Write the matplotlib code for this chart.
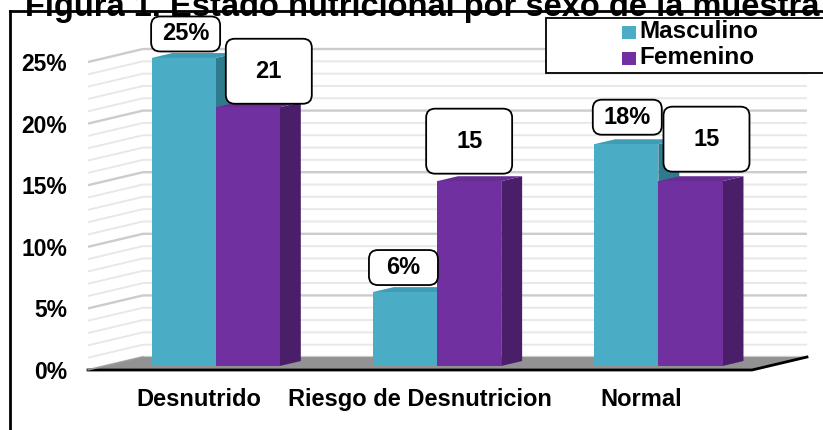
import matplotlib
matplotlib.use('Agg')
import matplotlib.pyplot as plt
from matplotlib.patches import Polygon, Rectangle, FancyBboxPatch
from matplotlib import transforms

plt.rcParams['font.family'] = ['Liberation Sans', 'DejaVu Sans']
plt.rcParams['font.weight'] = 'bold'

# data
categories = ['Desnutrido', 'Riesgo de Desnutricion', 'Normal']
series_names = ['Masculino', 'Femenino']
masculino = [25, 6, 18]
femenino = [21, 15, 15]
label_fmt = ['{}%', '{}']
title = 'Figura 1. Estado nutricional por sexo de la muestra'
yticks = [0, 5, 10, 15, 20, 25]

# style
front_cols = ['#4BACC6', '#7030A0']
top_cols = ['#3F9CB5', '#682C95']
side_cols = ['#2F7B8E', '#4A1E69']
box_sizes = [(0.69, 0.35), (0.86, 0.65)]          # inches
box_offsets = [[(0.02, 0.24), (-0.015, 0.245), (0.01, 0.27)],
               [(0.21, 0.36), (0.0, 0.40), (0.16, 0.42)]]

W, H = 823, 430
fig = plt.figure(figsize=(W / 100, H / 100), dpi=100)
ax = fig.add_axes([88 / W, 60 / H, 664 / W, 308 / H])
ax.set_xlim(-0.5, 2.5)
ax.set_ylim(0, 25)

px_x = 664 / 3.0
px_y = 308 / 25.0
DX = 55 / px_x
DY = 13 / px_y


def proj(x, y, z):
    return (x + z * DX, y + z * DY)


def poly(pts, **kw):
    p = Polygon([proj(*q) for q in pts], closed=True, clip_on=False, **kw)
    ax.add_patch(p)


# back wall + side wall grid
for g in range(0, 26):
    col = '#CCCCCC' if g % 5 == 0 else '#E8E8E8'
    lw = 1.7 if g % 5 == 0 else 1.4
    pts = [proj(-0.5, g, 0), proj(-0.5, g, 1), proj(2.5, g, 1)]
    ax.plot([p[0] for p in pts], [p[1] for p in pts], color=col, lw=lw,
            clip_on=False, zorder=1, solid_capstyle='butt')

# floor
poly([(-0.5, 0, 0), (2.5, 0, 0), (2.5, 0, 1), (-0.5, 0, 1)],
     facecolor='#929292', edgecolor='none', zorder=2)
fl = [proj(-0.5, 0, 0), proj(2.5, 0, 0), proj(2.5, 0, 1)]
ax.plot([p[0] for p in fl], [p[1] for p in fl], color='black', lw=2,
        clip_on=False, zorder=3)
sl = [proj(-0.5, 0, 0), proj(-0.5, 0, 1)]
ax.plot([p[0] for p in sl], [p[1] for p in sl], color='#9A9A9A', lw=1,
        clip_on=False, zorder=3)

# bars
bw = 0.29
z0, z1 = 0.31, 0.69
for i in range(len(categories)):
    for j, vals in enumerate([masculino, femenino]):
        v = vals[i]
        x0 = i - bw + j * bw
        x1 = x0 + bw
        zo = 4 + j
        poly([(x1, 0, z0), (x1, 0, z1), (x1, v, z1), (x1, v, z0)],
             facecolor=side_cols[j], edgecolor='none', zorder=zo)
        poly([(x0, v, z0), (x1, v, z0), (x1, v, z1), (x0, v, z1)],
             facecolor=top_cols[j], edgecolor='none', zorder=zo)
        poly([(x0, 0, z0), (x1, 0, z0), (x1, v, z0), (x0, v, z0)],
             facecolor=front_cols[j], edgecolor='none', zorder=zo)

# data labels
for i in range(len(categories)):
    for j, vals in enumerate([masculino, femenino]):
        v = vals[i]
        x0 = i - bw + j * bw
        ax_x, ax_y = proj(x0 + bw / 2, v, z0)
        trans = fig.dpi_scale_trans + transforms.ScaledTranslation(ax_x, ax_y, ax.transData)
        bw_in, bh_in = box_sizes[j]
        ox, oy = box_offsets[j][i]
        box = FancyBboxPatch((ox - bw_in / 2, oy - bh_in / 2), bw_in, bh_in,
                             boxstyle='round,pad=0,rounding_size=0.09',
                             facecolor='white', edgecolor='black', lw=1.3,
                             transform=trans, clip_on=False, zorder=10)
        fig.add_artist(box)
        fig.text(ox, oy, label_fmt[j].format(v), transform=trans, ha='center',
                 va='center', fontsize=17, fontweight='bold', zorder=11)

# axes text
for s in ax.spines.values():
    s.set_visible(False)
ax.set_yticks(yticks)
ax.set_yticklabels(['{}%'.format(t) for t in yticks])
ax.set_xticks(range(len(categories)))
ax.set_xticklabels(categories)
ax.tick_params(axis='y', length=0, pad=15, labelsize=16.5)
ax.tick_params(axis='x', length=0, pad=13, labelsize=17)
for lab in ax.get_xticklabels() + ax.get_yticklabels():
    lab.set_fontweight('bold')
ax.patch.set_alpha(0)

# frame and title
fig.add_artist(plt.Line2D([9.5 / W, 9.5 / W], [0, 1 - 11 / H], color='black', lw=2,
                          transform=fig.transFigure))
fig.add_artist(plt.Line2D([9.5 / W, 1], [1 - 11 / H, 1 - 11 / H], color='black', lw=2,
                          transform=fig.transFigure))
fig.text(25 / W, 1 - 16 / H, title, ha='left', va='baseline', fontsize=23.5,
         fontweight='bold')

# legend
fig.add_artist(Rectangle((546 / W, 1 - 73 / H), 300 / W, 55 / H, facecolor='white',
                         edgecolor='black', lw=1.3, transform=fig.transFigure,
                         zorder=20))
for k, name in enumerate(series_names):
    yc = 32 + 26 * k
    fig.add_artist(Rectangle((622 / W, 1 - (yc + 6.5) / H), 14 / W, 13 / H,
                             facecolor=front_cols[k], edgecolor='none',
                             transform=fig.transFigure, zorder=21))
    fig.text(639 / W, 1 - yc / H, name, ha='left', va='center', fontsize=17.5,
             fontweight='bold', zorder=21)

fig.savefig('out.png', dpi=100)
